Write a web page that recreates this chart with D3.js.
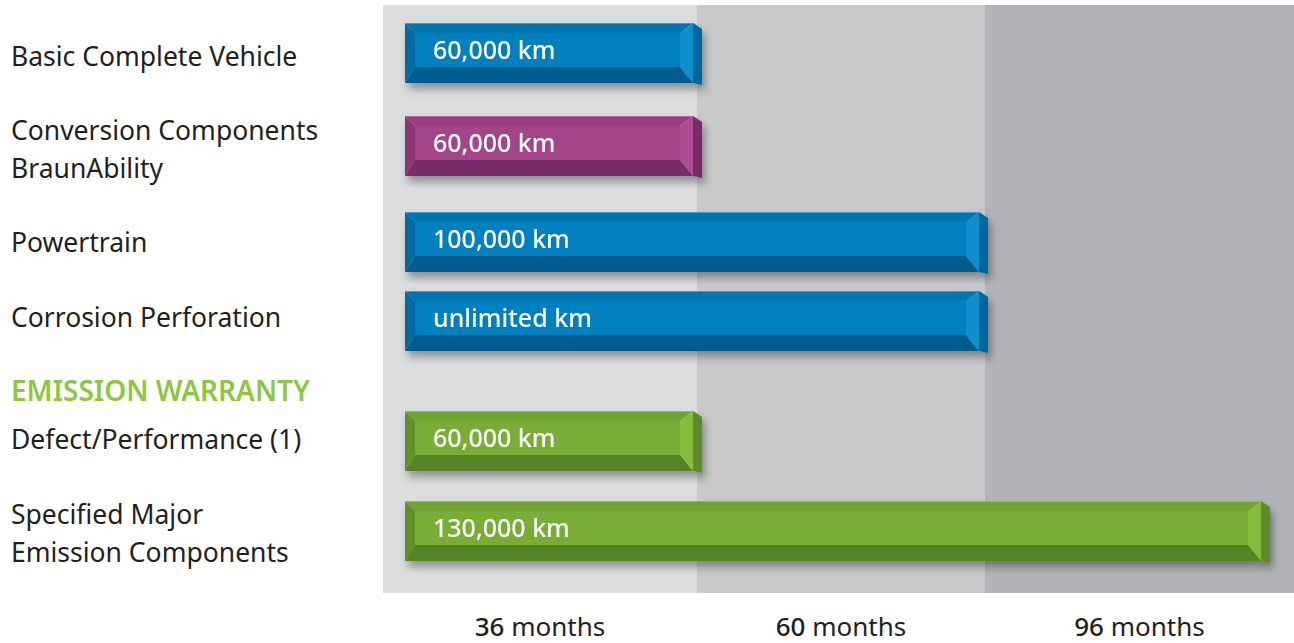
<!DOCTYPE html>
<html>
<head>
<meta charset="utf-8">
<script src="https://cdn.jsdelivr.net/npm/d3@7"></script>
<style>
  body { margin: 0; background: #fff; }
  text { font-family: "Noto Sans", sans-serif; }
</style>
</head>
<body>
<div id="chart"></div>
<script>
// warranty coverage data
const categories = ["Basic Complete Vehicle", "Conversion Components\nBraunAbility", "Powertrain",
  "Corrosion Perforation", "Defect/Performance (1)", "Specified Major\nEmission Components"];
const months = [36, 36, 60, 60, 36, 96];
const mileage = ["60,000 km", "60,000 km", "100,000 km", "unlimited km", "60,000 km", "130,000 km"];
const groups = ["blue", "magenta", "blue", "blue", "green", "green"];
const tiers = [36, 60, 96];
const sectionTitle = "EMISSION WARRANTY";

const width = 1294, height = 643;

const palette = {
  blue:    {front: "#0080bf", top: "#0074b0", left: "#006aa2", bottom: "#005c8e", right: "#0a8ecf", side: "#00669c", edge: "#3a9fd3"},
  magenta: {front: "#a44589", top: "#9a3e81", left: "#8a3676", bottom: "#792c67", right: "#ae4e94", side: "#7a2c68", edge: "#b9649f"},
  green:   {front: "#78ae35", top: "#6ea530", left: "#5f9329", bottom: "#558425", right: "#86bc3e", side: "#5c8c29", edge: "#8fc252"}
};

const svg = d3.select("#chart").append("svg")
    .attr("width", width)
    .attr("height", height);

const defs = svg.append("defs");
defs.append("filter")
    .attr("id", "shadow")
    .attr("x", "-5%").attr("y", "-30%").attr("width", "115%").attr("height", "180%")
  .append("feDropShadow")
    .attr("dx", 3).attr("dy", 6)
    .attr("stdDeviation", 4)
    .attr("flood-color", "#000")
    .attr("flood-opacity", 0.35);

// x: months -> bar end, zone: months -> background band edge
const x = d3.scaleLinear().domain([0, 36, 60, 96]).range([405, 702, 988, 1270]);
const zone = d3.scaleLinear().domain([0, 36, 60, 96]).range([383, 697, 985, 1294]);

// row tops for bars, label baselines
const y = d3.scaleOrdinal().domain(categories).range([23, 116, 212, 291, 411, 501]);
const labelY = d3.scaleOrdinal().domain(categories).range([66, 140, 252, 327, 449, 524]);
const barH = 60;

// background zones
const zoneColors = ["#dcdddf", "#c8c9cb", "#b1b3b6"];
svg.selectAll(".zone")
    .data(tiers)
  .enter().append("rect")
    .attr("class", "zone")
    .attr("x", (d, i) => zone(i === 0 ? 0 : tiers[i - 1]))
    .attr("y", 5)
    .attr("width", (d, i) => zone(d) - zone(i === 0 ? 0 : tiers[i - 1]))
    .attr("height", 588)
    .attr("fill", (d, i) => zoneColors[i]);

// month labels
const mLabels = svg.selectAll(".month")
    .data(tiers)
  .enter().append("text")
    .attr("class", "month")
    .attr("x", (d, i) => (zone(d) + zone(i === 0 ? 0 : tiers[i - 1])) / 2)
    .attr("y", 636)
    .attr("text-anchor", "middle")
    .attr("font-size", 26)
    .attr("fill", "#231f20");
mLabels.append("tspan").attr("font-weight", 500).text(d => d);
mLabels.append("tspan").attr("font-weight", 400).text(" months");

// left labels
const rows = categories.map((c, i) => ({cat: c, months: months[i], km: mileage[i], col: palette[groups[i]]}));

svg.selectAll(".label")
    .data(rows)
  .enter().append("text")
    .attr("class", "label")
    .attr("x", 11)
    .attr("y", d => labelY(d.cat))
    .attr("font-size", 26.5)
    .attr("fill", "#231f20")
  .selectAll("tspan")
    .data(d => d.cat.split("\n"))
  .enter().append("tspan")
    .attr("x", 11)
    .attr("dy", (d, i) => i === 0 ? 0 : 38)
    .text(d => d);

svg.append("text")
    .attr("x", 11)
    .attr("y", 401)
    .attr("font-size", 28)
    .attr("font-weight", 600)
    .attr("fill", "#8dc63f")
    .text(sectionTitle);

// bevelled bars
const bars = svg.selectAll(".bar")
    .data(rows)
  .enter().append("g")
    .attr("class", "bar")
    .attr("filter", "url(#shadow)");

const pts = a => a.map(p => p.join(",")).join(" ");
const side = 9, bl = 10, bt = 10, bb = 16, br = 13;

bars.each(function(d) {
  const g = d3.select(this);
  const x0 = x(0), x2 = x(d.months), x1 = x2 - side;
  const y0 = y(d.cat), y1 = y0 + barH;
  const ix0 = x0 + bl, ix1 = x1 - br, iy0 = y0 + bt, iy1 = y1 - bb;
  g.append("polygon").attr("points", pts([[x1, y0], [x2, y0 + 6], [x2, y1 + 2], [x1, y1]])).attr("fill", d.col.side);
  g.append("polygon").attr("points", pts([[x0, y0], [x1, y0], [ix1, iy0], [ix0, iy0]])).attr("fill", d.col.top);
  g.append("polygon").attr("points", pts([[x0, y1], [x1, y1], [ix1, iy1], [ix0, iy1]])).attr("fill", d.col.bottom);
  g.append("polygon").attr("points", pts([[x0, y0], [ix0, iy0], [ix0, iy1], [x0, y1]])).attr("fill", d.col.left);
  g.append("polygon").attr("points", pts([[x1, y0], [ix1, iy0], [ix1, iy1], [x1, y1]])).attr("fill", d.col.right);
  g.append("rect").attr("x", ix0).attr("y", iy0).attr("width", ix1 - ix0).attr("height", iy1 - iy0).attr("fill", d.col.front);
  g.append("line").attr("x1", x0).attr("x2", x1).attr("y1", y0 + 0.5).attr("y2", y0 + 0.5)
      .attr("stroke", d.col.edge).attr("stroke-width", 1);
  g.append("text")
      .attr("x", x0 + 28)
      .attr("y", y0 + 36)
      .attr("font-size", 25)
      .attr("font-weight", 500)
      .attr("fill", "#fff")
      .text(d.km);
});
</script>
</body>
</html>
